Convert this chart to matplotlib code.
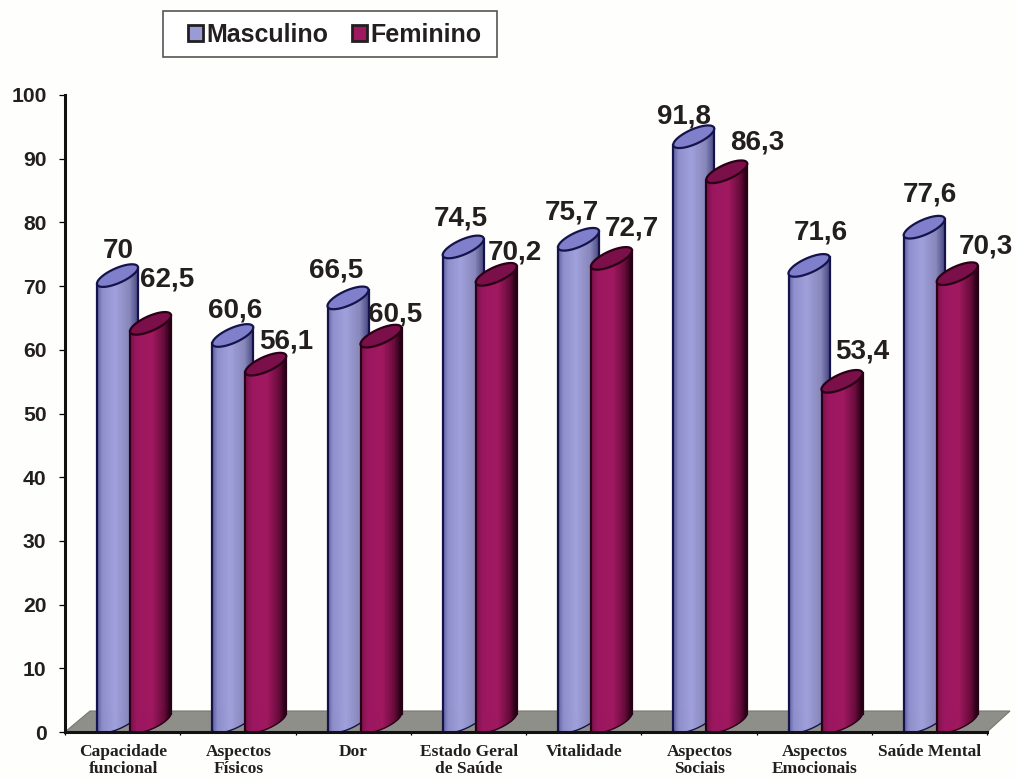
import numpy as np
import matplotlib
matplotlib.use("Agg")
import matplotlib.pyplot as plt
from matplotlib.collections import PolyCollection
from matplotlib.colors import LinearSegmentedColormap
from matplotlib.patches import Polygon, Patch, Rectangle

categories = ["Capacidade\nfuncional", "Aspectos\nFísicos", "Dor", "Estado Geral\nde Saúde",
              "Vitalidade", "Aspectos\nSociais", "Aspectos\nEmocionais", "Saúde Mental"]
masculino = [70, 60.6, 66.5, 74.5, 75.7, 91.8, 71.6, 77.6]
feminino = [62.5, 56.1, 60.5, 70.2, 72.7, 86.3, 53.4, 70.3]
value_text_m = ["70", "60,6", "66,5", "74,5", "75,7", "91,8", "71,6", "77,6"]
value_text_f = ["62,5", "56,1", "60,5", "70,2", "72,7", "86,3", "53,4", "70,3"]

# Hand-placed annotation centres, in figure pixels from the top-left corner
label_px_m = [(118, 248), (235, 308), (336, 268), (461, 216), (572, 209), (684, 113), (821, 230), (930, 192)]
label_px_f = [(167, 277), (286, 339), (395, 311), (515, 250), (632, 225), (757, 140), (862, 349), (986, 244)]

W, H = 1015, 778
AX_L, AX_R, AX_T, AX_B = 65, 987, 95, 732
fig = plt.figure(figsize=(W / 100, H / 100), dpi=100, facecolor="#fefefc")
ax = fig.add_axes([AX_L / W, 1 - AX_B / H, (AX_R - AX_L) / W, (AX_B - AX_T) / H])
ax.set_xlim(0, len(categories))
ax.set_ylim(0, 100)
ax.patch.set_alpha(0)

PX = len(categories) / float(AX_R - AX_L)  # category units per pixel
PY = 100.0 / (AX_B - AX_T)                 # value units per pixel

# Grey floor of the 3D chart
ax.add_patch(Polygon([(0, 0), (25 * PX, 21 * PY), (945 * PX, 21 * PY), (922 * PX, 0)],
                     closed=True, fc="#8f8f8a", ec="#77776f", lw=0.8, clip_on=False, zorder=1))

cmap_m = LinearSegmentedColormap.from_list("m", [(0, "#5c5ca0"), (0.14, "#8e8ecb"), (0.45, "#a0a0dc"),
                                                 (0.8, "#8787bb"), (1, "#4b4b85")])
cmap_f = LinearSegmentedColormap.from_list("f", [(0, "#7a1048"), (0.18, "#9c1760"), (0.55, "#a01860"),
                                                 (0.84, "#660b3a"), (1, "#1e0010")])

A, S, B, LIFT = 20.5, 8.0, 8.0, 10.5  # half width, shear, minor radius, centre lift (px)


def cylinder(cx, value, cmap, top_color, edge, z):
    n = 70
    u = np.linspace(0, 1, n + 1)
    c = 2 * u - 1
    low = -np.sqrt(np.clip(1 - c ** 2, 0, 1))
    x = cx + A * c * PX
    y_bot = (LIFT + S * c + B * low) * PY
    y_top = value + y_bot
    polys, cols = [], []
    for i in range(n):
        polys.append([(x[i], y_bot[i]), (x[i + 1], y_bot[i + 1]), (x[i + 1], y_top[i + 1]), (x[i], y_top[i])])
        cols.append(cmap((u[i] + u[i + 1]) / 2))
    ax.add_collection(PolyCollection(polys, facecolors=cols, edgecolors=cols, linewidths=0.4, zorder=z))
    ax.plot(x, y_bot, color=edge, lw=1.0, zorder=z + 0.1, solid_capstyle="round")
    ax.plot([x[0], x[0]], [y_bot[0], y_top[0]], color=edge, lw=1.6, zorder=z + 0.1)
    ax.plot([x[-1], x[-1]], [y_bot[-1], y_top[-1]], color=edge, lw=1.6, zorder=z + 0.1)
    t = np.linspace(0, 2 * np.pi, 120)
    ex = cx + A * np.cos(t) * PX
    ey = value + (LIFT + S * np.cos(t) + B * np.sin(t)) * PY
    ax.fill(ex, ey, fc=top_color, ec=edge, lw=1.6, zorder=z + 0.2)


for i in range(len(categories)):
    m_left = i + 32 * PX
    cylinder(m_left + A * PX, masculino[i], cmap_m, "#7f7fcb", "#14144a", 2 + i * 0.01)
    cylinder(m_left + (33 + A) * PX, feminino[i], cmap_f, "#7b0f49", "#2a0016", 3 + i * 0.01)

# Baseline sits half a digit height below the stated centre
for txt, (px, py) in zip(value_text_m + value_text_f, label_px_m + label_px_f):
    fig.text(px / W, 1 - (py + 10) / H, txt, ha="center", va="baseline", fontsize=20, fontweight="bold",
             family="Liberation Sans", color="#231f20")

for side in ("top", "right"):
    ax.spines[side].set_visible(False)
for side in ("left", "bottom"):
    ax.spines[side].set_linewidth(2.2)
    ax.spines[side].set_color("#111111")
    ax.spines[side].set_zorder(6)

ax.set_yticks(range(0, 101, 10))
ax.set_xticks(range(len(categories) + 1))
ax.set_xticklabels([])
ax.tick_params(axis="y", length=4.3, width=0.9, pad=9, labelsize=15.2, labelcolor="#231f20")
ax.tick_params(axis="x", length=2.5, width=0.9)
for lab in ax.get_yticklabels():
    lab.set_fontfamily("Liberation Sans")
    lab.set_fontweight("bold")

for i, cat in enumerate(categories):
    ax.annotate(cat, xy=(i + 0.5, 0), xycoords=("data", "axes fraction"), xytext=(0.3, -8.4),
                textcoords="offset points", ha="center", va="top", fontsize=12.5, fontweight="bold",
                family="Liberation Serif", color="#231f20", linespacing=1.14)

# Legend: a plain box with a frameless legend set inside it
fig.add_artist(Rectangle((163 / W, 1 - 57 / H), 334 / W, 46 / H, transform=fig.transFigure,
                         fc="#ffffff", ec="#555555", lw=1.2))
handles = [Patch(fc="#9a9ad6", ec="#231f20", lw=2, label="Masculino"),
           Patch(fc="#a0185f", ec="#231f20", lw=2, label="Feminino")]
leg = fig.legend(handles=handles, loc="center left", bbox_to_anchor=(188 / W, 1 - 35 / H), ncol=2,
                 frameon=False, borderaxespad=0, borderpad=0,
                 prop={"family": "Liberation Sans", "weight": "bold", "size": 18},
                 handlelength=0.58, handleheight=0.58, handletextpad=0.16, columnspacing=0.95)
for t in leg.get_texts():
    t.set_color("#231f20")

fig.savefig("out.png", dpi=100, facecolor=fig.get_facecolor())
